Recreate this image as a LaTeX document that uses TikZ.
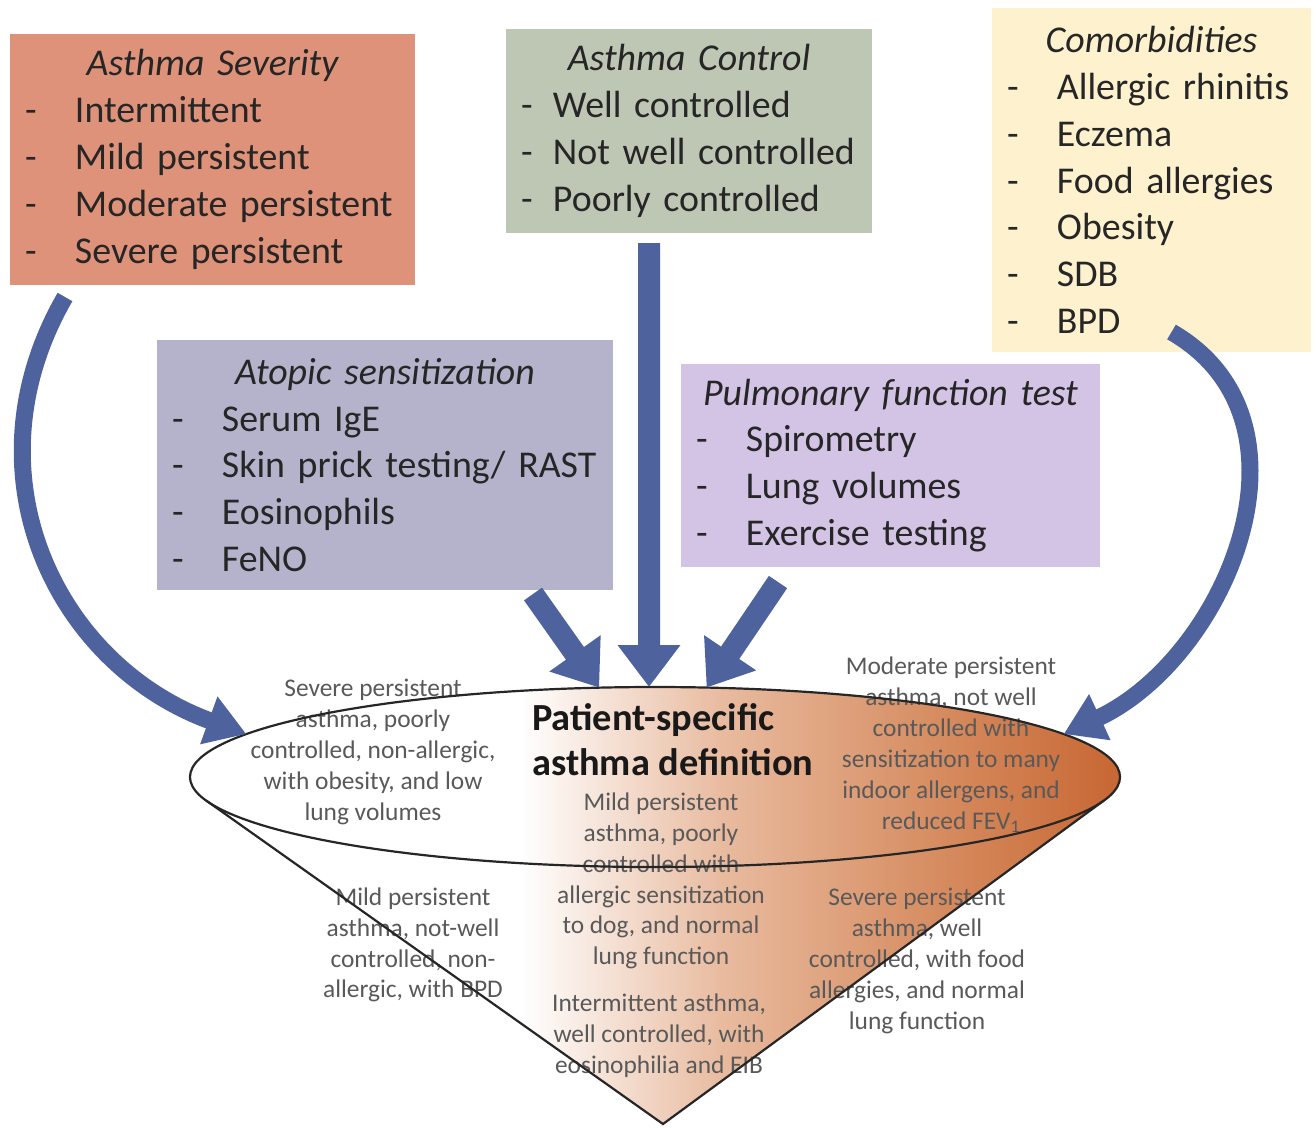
\documentclass[tikz,border=0pt]{standalone}
\usepackage{fontspec}
\setmainfont{Carlito}
\usepackage{tikz}
\usetikzlibrary{arrows.meta,shapes.geometric,positioning,calc,backgrounds}

\definecolor{sevfill}{RGB}{223,146,122}
\definecolor{ctrlfill}{RGB}{190,198,180}
\definecolor{comfill}{RGB}{253,241,206}
\definecolor{atofill}{RGB}{180,179,203}
\definecolor{pulfill}{RGB}{211,196,230}
\definecolor{arrowblue}{RGB}{78,99,158}
\definecolor{conelight}{RGB}{232,186,158}
\definecolor{conemid}{RGB}{214,140,96}
\definecolor{conebrown}{RGB}{196,94,40}
\definecolor{boxtext}{RGB}{38,38,38}
\definecolor{notegray}{RGB}{89,89,89}

\pgfdeclarehorizontalshading{conefill}{100bp}{color(0bp)=(white); color(42bp)=(white); color(52.4bp)=(conelight); color(63.2bp)=(conemid); color(74.5bp)=(conebrown); color(100bp)=(conebrown)}

\newcommand{\boxfont}{\fontsize{38}{47}\selectfont}
\newcommand{\notefont}{\fontsize{25.5}{31}\selectfont}
\newcommand{\titlefont}{\fontsize{38.5}{45}\selectfont\bfseries}
\newcommand{\bitem}[2][50bp]{\makebox[\hsize][l]{\hspace*{15bp}\makebox[#1][l]{-}#2}}

\begin{document}
\begin{tikzpicture}[
  x=1bp, y=-1bp,
  box/.style = {rectangle, anchor=north west, inner sep=0pt, outer sep=0pt,
                align=center, text=boxtext, font=\boxfont},
  note/.style = {align=center, inner sep=0pt, text=notegray, font=\notefont},
  fat/.style = {draw=arrowblue, line width=22bp, -{Triangle[length=42bp, width=60bp]}},
  curvy/.style = {draw=arrowblue, line width=17bp, -{Triangle[length=40bp, width=48bp]}},
  rim/.style = {draw=black!85, line width=2.2bp}
]
\useasboundingbox (0,0) rectangle (1316,1127);

% Top row: the three groups of findings
\node[box, fill=sevfill, text width=405bp, minimum height=251bp] (severity) at (10,34)
  {{\itshape Asthma Severity}\\
   \bitem{Intermittent}\\
   \bitem{Mild persistent}\\
   \bitem{Moderate persistent}\\
   \bitem{Severe persistent}};
\node[box, fill=ctrlfill, text width=366bp, minimum height=204bp] (control) at (506,29)
  {{\itshape Asthma Control}\\
   \bitem[32bp]{Well controlled}\\
   \bitem[32bp]{Not well controlled}\\
   \bitem[32bp]{Poorly controlled}};
\node[box, fill=comfill, text width=319bp, minimum height=344bp] (comorb) at (992,8)
  {{\itshape Comorbidities}\\
   \bitem{Allergic rhinitis}\\
   \bitem{Eczema}\\
   \bitem{Food allergies}\\
   \bitem{Obesity}\\
   \bitem{SDB}\\
   \bitem{BPD}};

% Middle row: tests
\node[box, fill=atofill, text width=456bp, minimum height=250bp] (atopic) at (157,340)
  {{\itshape Atopic sensitization}\\
   \bitem{Serum IgE}\\
   \bitem{Skin prick testing/ RAST}\\
   \bitem{Eosinophils}\\
   \bitem{FeNO}};
\node[box, fill=pulfill, text width=419bp, minimum height=203bp] (pulm) at (681,364)
  {{\itshape Pulmonary function test}\\
   \bitem{Spirometry}\\
   \bitem{Lung volumes}\\
   \bitem{Exercise testing}};

% Bottom: the cone with example definitions
\node[note] (sevpoor) at (373,752) {Severe persistent\\asthma, poorly\\controlled, non-allergic,\\with obesity, and low\\lung volumes};
\node[note] (modsens) at (951,745) {Moderate persistent\\asthma, not well\\controlled with\\sensitization to many\\indoor allergens, and\\reduced FEV\textsubscript{1}};
\node[note] (milddog) at (661,881) {Mild persistent\\asthma, poorly\\controlled with\\allergic sensitization\\to dog, and normal\\lung function};
\node[note] (intermit) at (659,1036) {Intermittent asthma,\\well controlled, with\\eosinophilia and EIB};
\node[note] (mildbpd) at (413,945) {Mild persistent\\asthma, not-well\\controlled, non-\\allergic, with BPD};
\node[note] (sevfood) at (917,961) {Severe persistent\\asthma, well\\controlled, with food\\allergies, and normal\\lung function};
\node[font=\titlefont, text=black!90, align=left, inner sep=0pt, anchor=west] (title) at (532,740)
  {Patient-specific\\asthma definition};

\node[ellipse, rim, minimum width=930bp, minimum height=180bp,
      inner sep=0pt, outer sep=0pt] (defn) at (655,777) {};
\coordinate (apex) at (663,1124);
\coordinate (tanL) at (defn.183);
\coordinate (tanR) at (defn.357);
\draw[rim] (tanL) -- (apex) -- (tanR);

\begin{scope}[on background layer]
  \shade[shading=conefill] (tanL) -- (apex) -- (tanR)
    arc[start angle=-15.15, end angle=195.15, x radius=465bp, y radius=90bp] -- cycle;
\end{scope}

% Straight arrows into the definition
\draw[fat] ([xshift=-40bp,yshift=-10bp]control.south) -- ([xshift=-6bp]defn.north);
\draw[fat] ([xshift=-80bp,yshift=-4bp]atopic.south east) -- (defn.122);
\draw[fat] ([xshift=97bp,yshift=-15bp]pulm.south west) -- (defn.60);

% Curved arrows from the outer boxes
\draw[curvy] ([xshift=55bp,yshift=-12bp]severity.south west) to[out=240, in=160, looseness=1.1] (defn.174);
\draw[curvy] ([xshift=20bp,yshift=20bp]comorb.south) to[out=-30, in=25, looseness=1.1] (defn.6);

\end{tikzpicture}
\end{document}
